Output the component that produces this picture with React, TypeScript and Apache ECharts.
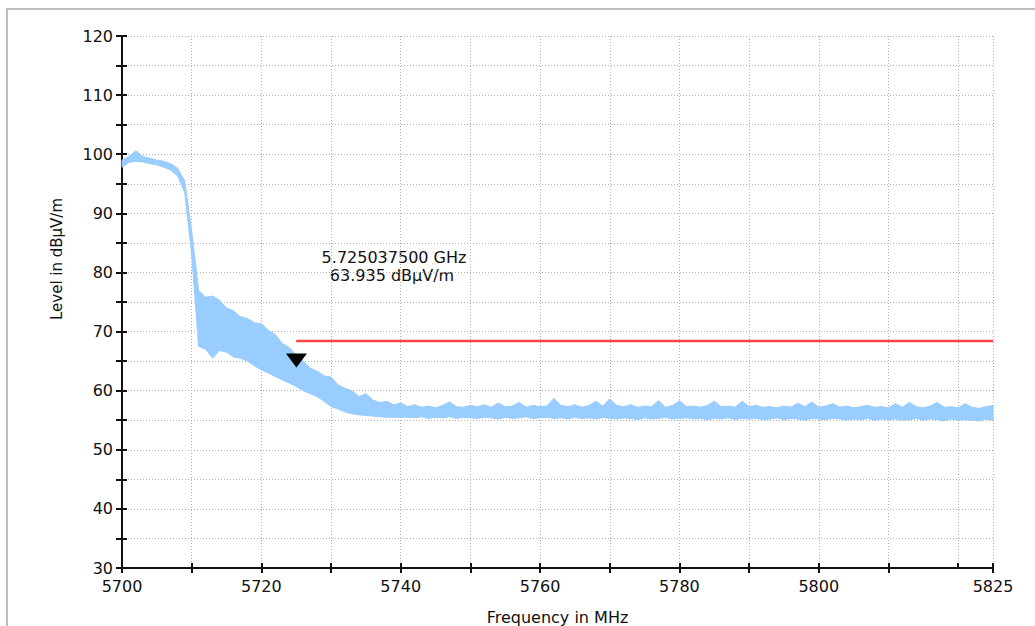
import React, { useEffect, useRef } from "react";
import * as echarts from "echarts";

// Frequency grid of the read-off trace envelope (MHz)
const startFreqMHz = 5700;
const stepMHz = 1;

// Lower edge of the noisy measured trace (dBµV/m), one value per MHz 5700..5825
const traceLow = [
  97.8, 98.6, 98.8, 98.7, 98.4, 98.2, 97.8, 97.3, 96.3, 93.5,
  83.0, 67.5, 67.0, 65.5, 66.8, 66.5, 65.7, 65.5, 65.0, 64.2,
  63.5, 63.0, 62.4, 61.8, 61.3, 60.7, 60.0, 59.5, 59.0, 58.2,
  57.3, 56.9, 56.4, 56.1, 55.9, 55.8, 55.7, 55.6, 55.5, 55.5,
  55.5, 55.5, 55.4, 55.6, 55.3, 55.5, 55.4, 55.6, 55.3, 55.5,
  55.4, 55.3, 55.5, 55.4, 55.2, 55.5, 55.3, 55.4, 55.6, 55.3,
  55.4, 55.5, 55.3, 55.4, 55.2, 55.5, 55.3, 55.4, 55.2, 55.5,
  55.3, 55.2, 55.4, 55.3, 55.1, 55.4, 55.2, 55.3, 55.5, 55.2,
  55.3, 55.4, 55.2, 55.3, 55.1, 55.3, 55.2, 55.4, 55.1, 55.3,
  55.2, 55.3, 55.1, 55.2, 55.4, 55.1, 55.3, 55.2, 55.0, 55.3,
  55.2, 55.1, 55.3, 55.2, 55.0, 55.2, 55.1, 55.3, 55.0, 55.2,
  55.1, 55.2, 55.0, 55.1, 55.3, 55.0, 55.2, 55.1, 54.9, 55.2,
  55.0, 55.1, 55.0, 54.9, 55.2, 55.0,
];

// Upper edge of the noisy measured trace (dBµV/m), one value per MHz 5700..5825
const traceHigh = [
  99.0, 99.6, 100.6, 99.6, 99.3, 99.0, 98.8, 98.4, 97.6, 95.5,
  87.0, 77.0, 75.8, 76.0, 75.3, 74.0, 73.5, 72.5, 72.2, 71.5,
  71.3, 70.2, 69.5, 68.0, 67.3, 66.0, 65.0, 63.8, 63.3, 62.5,
  62.3, 61.0, 60.4, 60.0, 59.0, 59.5, 58.4, 58.0, 58.2, 57.6,
  57.9, 57.3, 57.6, 57.2, 57.4, 57.1, 57.5, 58.1, 57.3, 57.2,
  57.5, 57.3, 57.6, 57.2, 57.9, 57.3, 57.4, 58.0, 57.2, 57.5,
  57.3, 57.4, 58.7, 57.5, 57.3, 57.6, 57.2, 57.5, 58.2, 57.4,
  58.6, 57.5, 57.3, 57.6, 57.2, 57.4, 57.3, 58.3, 57.2, 57.5,
  58.3, 57.3, 57.4, 57.2, 57.5, 58.2, 57.3, 57.4, 57.2, 58.2,
  57.3, 57.5, 57.2, 57.3, 57.1, 57.4, 57.2, 57.9, 57.3, 58.1,
  57.2, 57.4, 57.8, 57.2, 57.4, 57.1, 57.3, 57.5, 57.2, 57.3,
  57.1, 57.8, 57.2, 58.0, 57.3, 57.1, 57.4, 58.0, 57.2, 57.3,
  57.1, 57.8, 57.2, 57.0, 57.3, 57.5,
];

// Limit line (red)
const limitFreq = [5725, 5825];
const limitLevel = [68.4, 68.4];

// Marker
const markerFreq = 5725.0375;
const markerLevel = 63.935;
const markerLines = ["5.725037500 GHz", "63.935 dBµV/m"];

// Axes
const xMin = 5700;
const xMax = 5825;
const xStep = 10;
const yMin = 30;
const yMax = 120;
const yStep = 5;

const TRACE_COLOR = "#99ccff";
const FONT = "DejaVu Sans";

export default function App() {
  const ref = useRef<HTMLDivElement>(null);

  useEffect(() => {
    if (!ref.current) return;
    const chart = echarts.init(ref.current, null, { renderer: "svg" });

    const freqs = traceLow.map((_, i) => startFreqMHz + i * stepMHz);
    const bandData = freqs.map((f, i) => [f, traceLow[i], traceHigh[i]]);
    const limitData = limitFreq.map((f, i) => [f, limitLevel[i]]);

    const tickStyle = { color: "#111", width: 2 };

    chart.setOption({
      animation: false,
      backgroundColor: "#ffffff",
      grid: {
        left: 122,
        right: 42,
        top: 36,
        bottom: 58,
        containLabel: false,
        outerBoundsMode: "none",
      },
      xAxis: [
        {
          type: "value",
          min: xMin,
          max: xMax,
          interval: xStep,
          position: "bottom",
          axisLine: { onZero: false, lineStyle: { color: "#111", width: 2 } },
          axisTick: { show: true, length: 5, lineStyle: tickStyle },
          axisLabel: {
            color: "#111",
            fontFamily: FONT,
            fontSize: 16,
            margin: 10,
            showMaxLabel: true,
            formatter: (v: number) => (v % 20 === 0 || v === xMax ? String(v) : ""),
          },
          splitLine: { show: true, lineStyle: { color: "#b0b0b0", type: [1, 2], width: 1 } },
          name: "Frequency in MHz",
          nameLocation: "middle",
          nameGap: 41,
          nameTextStyle: { color: "#111", fontFamily: FONT, fontSize: 16 },
        },
        {
          type: "value",
          min: xMin,
          max: xMax,
          interval: xStep,
          position: "bottom",
          axisLine: { show: false, onZero: false },
          axisTick: { show: true, inside: true, length: 5, lineStyle: tickStyle },
          axisLabel: { show: false },
          splitLine: { show: false },
        },
      ],
      yAxis: [
        {
          type: "value",
          min: yMin,
          max: yMax,
          interval: yStep,
          position: "left",
          axisLine: { show: true, onZero: false, lineStyle: { color: "#111", width: 2 } },
          axisTick: { show: true, length: 6, lineStyle: tickStyle },
          axisLabel: {
            color: "#111",
            fontFamily: FONT,
            fontSize: 16,
            margin: 9,
            formatter: (v: number) => (v % 10 === 0 ? String(v) : ""),
          },
          splitLine: { show: true, lineStyle: { color: "#b0b0b0", type: [1, 2], width: 1 } },
        },
        {
          type: "value",
          min: yMin,
          max: yMax,
          interval: yStep,
          position: "left",
          axisLine: { show: false, onZero: false },
          axisTick: { show: true, inside: true, length: 5, lineStyle: tickStyle },
          axisLabel: { show: false },
          splitLine: { show: false },
        },
      ],
      series: [
        {
          type: "custom",
          name: "trace",
          data: [0],
          silent: true,
          z: 2,
          renderItem: (params: any, api: any) => {
            const top = bandData.map((d) => api.coord([d[0], d[2]]));
            const bottom = bandData
              .slice()
              .reverse()
              .map((d) => api.coord([d[0], d[1]]));
            return {
              type: "polygon",
              shape: { points: top.concat(bottom) },
              style: { fill: TRACE_COLOR, stroke: TRACE_COLOR, lineWidth: 1 },
            };
          },
        },
        {
          type: "line",
          name: "limit",
          data: limitData,
          symbol: "none",
          silent: true,
          lineStyle: { color: "#ff4444", width: 2.5 },
          z: 3,
        },
        {
          type: "scatter",
          name: "marker",
          data: [[markerFreq, markerLevel]],
          symbol: "triangle",
          symbolRotate: 180,
          symbolSize: [21, 14],
          symbolOffset: [0, -7],
          itemStyle: { color: "#000", opacity: 1 },
          silent: true,
          z: 4,
        },
      ],
      graphic: [
        {
          type: "rect",
          shape: { x: 7, y: 9, width: 1200, height: 800 },
          style: { fill: "none", stroke: "#bdbdbd", lineWidth: 2 },
          silent: true,
          z: -1,
        },
        {
          type: "text",
          x: 57,
          y: 259,
          rotation: Math.PI / 2,
          style: {
            text: "Level in dBµV/m",
            fontFamily: FONT,
            fontSize: 15,
            fill: "#111",
            align: "center",
            verticalAlign: "middle",
          },
        },
        {
          type: "text",
          x: 394,
          y: 257,
          style: {
            text: markerLines[0],
            fontFamily: FONT,
            fontSize: 16,
            fill: "#111",
            align: "center",
            verticalAlign: "middle",
          },
        },
        {
          type: "text",
          x: 392,
          y: 275,
          style: {
            text: markerLines[1],
            fontFamily: FONT,
            fontSize: 16,
            fill: "#111",
            align: "center",
            verticalAlign: "middle",
          },
        },
      ],
    });

    return () => chart.dispose();
  }, []);

  return (
    <div
      ref={ref}
      style={{ position: "fixed", left: 0, top: 0, width: 1035, height: 626, background: "#fff" }}
    />
  );
}
